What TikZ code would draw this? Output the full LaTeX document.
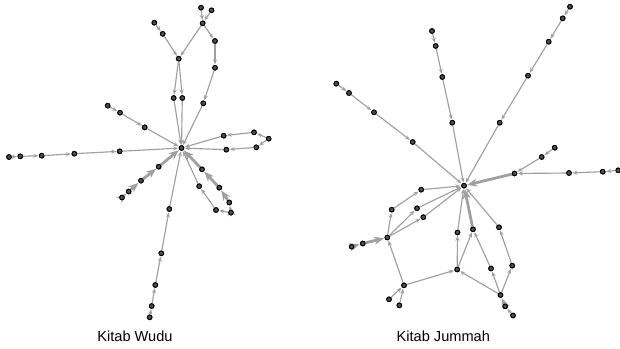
\documentclass[tikz,border=0pt]{standalone}
\usepackage{fontspec}
\setmainfont{Liberation Sans}
\usetikzlibrary{arrows.meta}
\definecolor{edgegray}{RGB}{160,160,160}
\definecolor{nodefill}{RGB}{80,80,80}
\tikzset{
  vtx/.style={circle,inner sep=0pt,minimum size=4.6pt,fill=nodefill,draw=black,line width=0.9pt},
  e/.style={draw=edgegray,line width=1.15pt,-{Stealth[length=5pt,width=4pt]},shorten >=0.6pt},
  ethick/.style={draw=edgegray,line width=2.8pt,-{Stealth[length=10pt,width=8pt]},shorten >=0.6pt},
  lbl/.style={font=\fontsize{14.6}{17}\selectfont,anchor=base,inner sep=0pt}
}
\begin{document}
\begin{tikzpicture}[x=1pt,y=-1pt]
\useasboundingbox (0,0) rectangle (620,348);
% ---------- Kitab Wudu ----------
\foreach \n/\x/\y in {C/181.5/148, A1/201/7.7, A2/211.5/10.3, B/202.7/23.3, D/178.7/58.7, E/215/41,
  F/154.3/22.7, G/162.7/33.8, H1/173.7/98, H2/182.3/98, E2/215/67.8, E3/203.3/103.3,
  I1/107.7/105.7, I2/120/112.7, I3/144.7/127.3,
  J1/9/157, J2/20.3/156.3, J3/41.7/155.7, J4/74.3/153.7, J5/119.7/151.3,
  K1/223.7/135.7, K2/254/132.3, K3/268.7/138.7, K4/256.3/147.3, K5/226.3/149.7,
  L1/122/197.5, L2/128.7/191.5, L3/141/180.7, L4/158.7/166.7,
  M1/202/169.3, M2/219.3/187.7, M3/229.3/202.5, M4/231/212.7, M5/216/210, M6/199.2/186.2,
  N1/169.3/209, N2/161.3/253.3, N3/155.3/285, N4/151.7/306, N5/149.7/317.3}
  \node[vtx] (\n) at (\x,\y) {};
% ---------- Kitab Jummah ----------
\foreach \n/\x/\y in {R/464/185.7,
  P1/570/6.7, P2/562.7/18.3, P3/548.7/41.7, P4/528/75.7, P5/499.7/122.7,
  Q1/432/31, Q2/435.7/46, Q3/442.3/77, Q4/452.3/122.7,
  S1/336.3/83.7, S2/349/93, S3/374/112.3, S4/412.7/142,
  T1/554.7/147.7, T2/541.7/157, T3/514.5/173.5,
  U1/569/173, U2/602.7/171.7, U3/618.2/170.3,
  V1/421.2/189.7, V2/391.7/209.7, V3/417/208.3, V4/423.3/217.2,
  W/387.3/237.5, X1/351.7/246.7, X2/362.8/243.5,
  Y/404/285.3, Y1/389/299.3, Y2/399.3/305.3,
  Z/457.2/269.5, Z1/457.5/232.5, Z2/473/229.3,
  AA/500.5/295, AB/491/268.5, AC/512.2/265.7, AD/499/227.3,
  AE/505.2/306.3, AF/513/315.5}
  \node[vtx] (\n) at (\x,\y) {};
% ---------- edges ----------
\foreach \a/\b in {A1/B, A2/B, B/D, B/E, F/G, G/D, D/H1, D/H2, H1/C, H2/C,
  E/E2, E2/E3, E3/C, I1/I2, I2/I3, I3/C, J1/J2, J2/J3, J3/J4, J4/J5, J5/C,
  K2/K1, K1/C, K3/K2, K3/K4, K4/K5, K5/C, M4/M5, M5/M6, M6/C,
  N5/N4, N4/N3, N3/N2, N2/N1, N1/C,
  P1/P2, P2/P3, P3/P4, P4/P5, P5/R, Q1/Q2, Q2/Q3, Q3/Q4, Q4/R,
  S1/S2, S2/S3, S3/S4, S4/R, T1/T2, T2/T3, U3/U2, U2/U1, U1/T3,
  V1/R, V3/R, V4/R, V2/V1, W/V2, W/V3, W/V4, Y/W, Y1/Y, Y2/Y, Y/Z,
  Z/Z1, Z1/R, Z/Z2, AA/Z, AA/AB, AB/Z2, AA/AC, AC/AD, AD/R, AF/AE}
  \draw[e] (\a) -- (\b);
\foreach \a/\b in {L1/L2, L2/L3, L3/L4, L4/C, M4/M3, M3/M2, M2/M1, M1/C,
  X1/X2, X2/W, T3/R, Z2/R, AE/AA}
  \draw[ethick] (\a) -- (\b);
% redraw nodes on top
\foreach \n in {C,A1,A2,B,D,E,F,G,H1,H2,E2,E3,I1,I2,I3,J1,J2,J3,J4,J5,K1,K2,K3,K4,K5,
  L1,L2,L3,L4,M1,M2,M3,M4,M5,M6,N1,N2,N3,N4,N5,R,P1,P2,P3,P4,P5,Q1,Q2,Q3,Q4,
  S1,S2,S3,S4,T1,T2,T3,U1,U2,U3,V1,V2,V3,V4,W,X1,X2,Y,Y1,Y2,Z,Z1,Z2,AA,AB,AC,AD,AE,AF}
  \fill[nodefill,draw=black,line width=0.9pt] (\n) circle (2.3pt);
% ---------- labels ----------
\node[lbl] (wudu) at (135,341.3) {Kitab Wudu};
\node[lbl] (jummah) at (443.3,341.3) {Kitab Jummah};
\end{tikzpicture}
\end{document}
